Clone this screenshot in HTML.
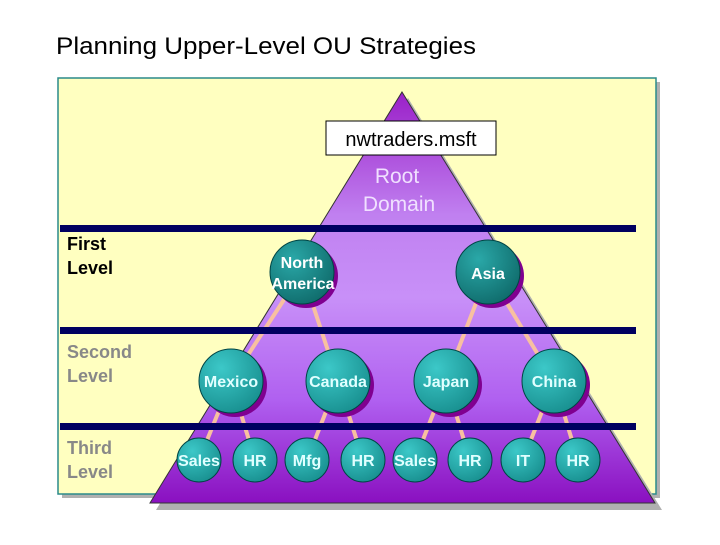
<!DOCTYPE html>
<html><head><style>
body{margin:0;width:720px;height:540px;background:#fff;overflow:hidden;font-family:"Liberation Sans",sans-serif}
</style></head><body>
<svg width="720" height="540" xmlns="http://www.w3.org/2000/svg" font-family="Liberation Sans, sans-serif">
<defs>
<linearGradient id="tri" x1="0" y1="0" x2="0" y2="1">
<stop offset="0" stop-color="#9a20c8"/><stop offset="0.3" stop-color="#c080f0"/><stop offset="0.5" stop-color="#c890f8"/><stop offset="0.75" stop-color="#b060f0"/><stop offset="1" stop-color="#8a10c0"/>
</linearGradient>
<radialGradient id="ball" cx="0.35" cy="0.3" r="0.8">
<stop offset="0" stop-color="#3cc8c8"/><stop offset="1" stop-color="#168c8c"/>
</radialGradient>
<radialGradient id="ballD" cx="0.35" cy="0.3" r="0.8">
<stop offset="0" stop-color="#2aa8a8"/><stop offset="1" stop-color="#0e6868"/>
</radialGradient>
</defs>
<text x="56" y="54" font-size="24" fill="#000" textLength="420" lengthAdjust="spacingAndGlyphs">Planning Upper-Level OU Strategies</text>
<rect x="62" y="82" width="598" height="416" fill="#b0b0b0"/>
<rect x="58" y="78" width="598" height="416" fill="#ffffc0" stroke="#2a8a8a" stroke-width="1.5"/>
<polygon points="408,98 662,510 156,510" fill="#b0b0b0"/>
<polygon points="402,92 655,503 150,503" fill="url(#tri)" stroke="#333" stroke-width="1"/>
<g stroke="#f8c0a0" stroke-width="4">
<line x1="302" y1="272" x2="231" y2="381"/><line x1="302" y1="272" x2="338" y2="381"/>
<line x1="488" y1="272" x2="446" y2="381"/><line x1="488" y1="272" x2="554" y2="381"/>
<line x1="231" y1="381" x2="199" y2="460"/><line x1="231" y1="381" x2="255" y2="460"/>
<line x1="338" y1="381" x2="307" y2="460"/><line x1="338" y1="381" x2="363" y2="460"/>
<line x1="446" y1="381" x2="415" y2="460"/><line x1="446" y1="381" x2="470" y2="460"/>
<line x1="554" y1="381" x2="523" y2="460"/><line x1="554" y1="381" x2="578" y2="460"/>
</g>
<g fill="#000060">
<rect x="60" y="225" width="576" height="7"/>
<rect x="60" y="327" width="576" height="7"/>
<rect x="60" y="423" width="576" height="7"/>
</g>
<rect x="326" y="121" width="170" height="34" fill="#fff" stroke="#000"/>
<text x="411" y="146" font-size="20" text-anchor="middle">nwtraders.msft</text>
<text x="397" y="183" font-size="21" fill="#f0e0ff" text-anchor="middle">Root</text>
<text x="399" y="211" font-size="21" fill="#f0e0ff" text-anchor="middle">Domain</text>
<g font-size="18" font-weight="bold">
<text x="67" y="250">First</text><text x="67" y="274">Level</text>
<text x="67" y="358" fill="#888">Second</text><text x="67" y="382" fill="#888">Level</text>
<text x="67" y="454" fill="#888">Third</text><text x="67" y="478" fill="#888">Level</text>
</g>
<g>
<circle cx="306" cy="276" r="32" fill="#800090"/><circle cx="302" cy="272" r="32" fill="url(#ballD)" stroke="#044" />
<circle cx="492" cy="276" r="32" fill="#800090"/><circle cx="488" cy="272" r="32" fill="url(#ballD)" stroke="#044"/>
<circle cx="235" cy="385" r="32" fill="#800090"/><circle cx="231" cy="381" r="32" fill="url(#ball)" stroke="#044"/>
<circle cx="342" cy="385" r="32" fill="#800090"/><circle cx="338" cy="381" r="32" fill="url(#ball)" stroke="#044"/>
<circle cx="450" cy="385" r="32" fill="#800090"/><circle cx="446" cy="381" r="32" fill="url(#ball)" stroke="#044"/>
<circle cx="558" cy="385" r="32" fill="#800090"/><circle cx="554" cy="381" r="32" fill="url(#ball)" stroke="#044"/>
</g>
<g stroke="#044">
<circle cx="199" cy="460" r="22" fill="url(#ball)"/><circle cx="255" cy="460" r="22" fill="url(#ball)"/>
<circle cx="307" cy="460" r="22" fill="url(#ball)"/><circle cx="363" cy="460" r="22" fill="url(#ball)"/>
<circle cx="415" cy="460" r="22" fill="url(#ball)"/><circle cx="470" cy="460" r="22" fill="url(#ball)"/>
<circle cx="523" cy="460" r="22" fill="url(#ball)"/><circle cx="578" cy="460" r="22" fill="url(#ball)"/>
</g>
<g font-size="16" font-weight="bold" fill="#fff" text-anchor="middle">
<text x="302" y="268">North</text><text x="303" y="289">America</text>
<text x="488" y="279">Asia</text>
</g>
<g font-size="16" font-weight="bold" fill="#e0ffff" text-anchor="middle">
<text x="231" y="387">Mexico</text><text x="338" y="387">Canada</text>
<text x="446" y="387">Japan</text><text x="554" y="387">China</text>
<text x="199" y="466">Sales</text><text x="255" y="466">HR</text>
<text x="307" y="466">Mfg</text><text x="363" y="466">HR</text>
<text x="415" y="466">Sales</text><text x="470" y="466">HR</text>
<text x="523" y="466">IT</text><text x="578" y="466">HR</text>
</g>
</svg>
</body></html>
